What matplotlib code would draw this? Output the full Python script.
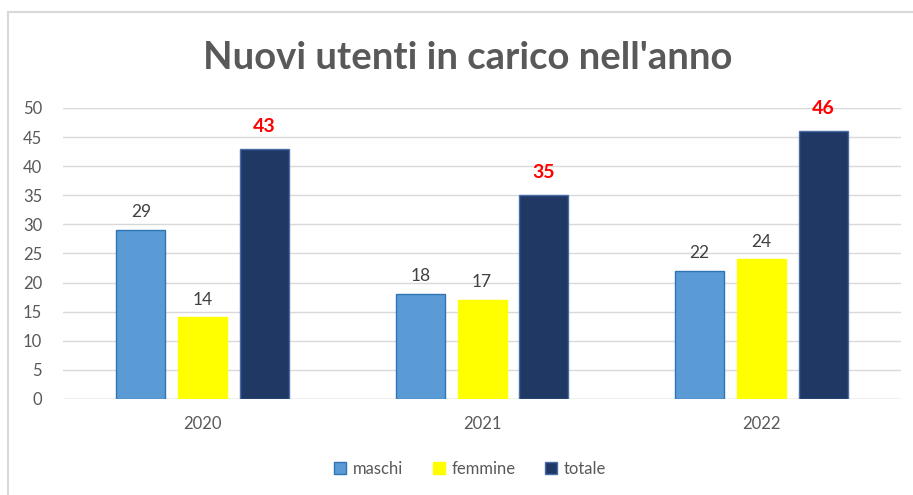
import numpy as np
import matplotlib.pyplot as plt
from matplotlib.lines import Line2D

# data
anni = ['2020', '2021', '2022']
maschi = [29, 18, 22]
femmine = [14, 17, 24]
totale = [43, 35, 46]

plt.rcParams['font.family'] = ['Lato', 'DejaVu Sans']

fig = plt.figure(figsize=(9.13, 4.95), dpi=100)
ax = fig.add_axes([0.069, 0.194, 0.918, 0.588])

x = np.arange(len(anni))
w = 0.175
off = 0.2214
grigio = '#595959'

b1 = ax.bar(x - off, maschi, w, color='#5B9BD5', edgecolor='#2E75B6', linewidth=1, label='maschi', zorder=3)
b2 = ax.bar(x, femmine, w, color='#FFFF00', edgecolor='#FFFF00', linewidth=1, label='femmine', zorder=3)
b3 = ax.bar(x + off, totale, w, color='#203864', edgecolor='#4A6CA8', linewidth=1, label='totale', zorder=3)

for bars in (b1, b2):
    for r in bars:
        ax.annotate(f'{r.get_height():.0f}', (r.get_x() + r.get_width() / 2, r.get_height()),
                    xytext=(0, 7), textcoords='offset points', ha='center', va='bottom',
                    fontsize=12.5, color='#404040')
for r in b3:
    ax.annotate(f'{r.get_height():.0f}', (r.get_x() + r.get_width() / 2, r.get_height()),
                xytext=(0, 10), textcoords='offset points', ha='center', va='bottom',
                fontsize=14, color='#FF0000', fontweight='bold')

ax.set_xlim(-0.5, 2.5)
ax.set_ylim(0, 50)
ax.set_yticks(range(0, 51, 5))
ax.set_xticks(x)
ax.set_xticklabels(anni)
ax.tick_params(axis='both', length=0, labelsize=12, labelcolor=grigio)
ax.tick_params(axis='y', pad=15)
ax.tick_params(axis='x', pad=12)
ax.yaxis.grid(True, color='#D9D9D9', linewidth=1, zorder=0)
for s in ax.spines.values():
    s.set_visible(False)
ax.axhline(0, color='#D9D9D9', linewidth=1, zorder=2)

fig.text(0.5126, 0.882, "Nuovi utenti in carico nell'anno", ha='center', va='center',
         fontsize=27.5, fontweight='bold', color=grigio)

fig.legend(handles=[b1, b2, b3], loc='center', bbox_to_anchor=(0.515, 0.0525), ncol=3,
           frameon=False, fontsize=12, labelcolor=grigio, handlelength=0.7, handleheight=0.7,
           handletextpad=0.4, columnspacing=1.8)

# chart frame
fig.add_artist(Line2D([8 / 913, 8 / 913], [0, 1 - 12 / 495], color='#D9D9D9', linewidth=1.5))
fig.add_artist(Line2D([8 / 913, 1], [1 - 12 / 495, 1 - 12 / 495], color='#D9D9D9', linewidth=1.5))

fig.savefig('out.png', dpi=100)
